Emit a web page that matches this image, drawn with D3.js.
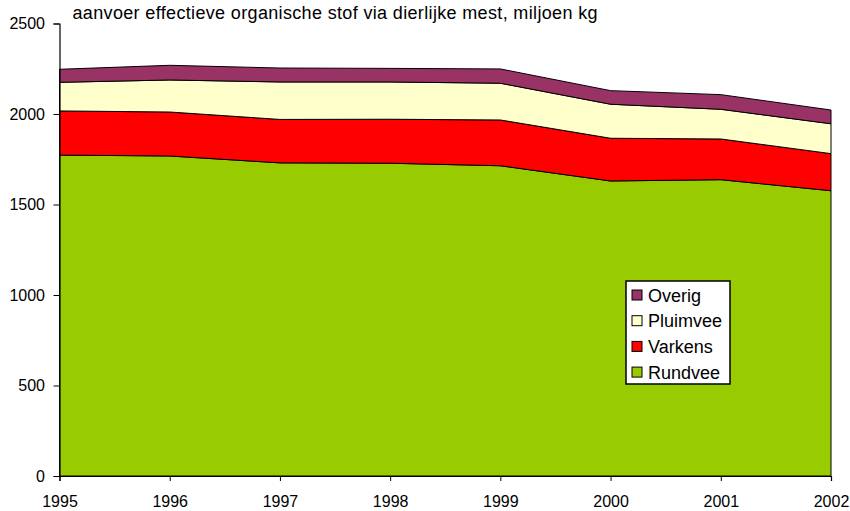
<!DOCTYPE html>
<html>
<head>
<meta charset="utf-8">
<script src="https://cdn.jsdelivr.net/npm/d3@7"></script>
<style>
  body { margin: 0; background: #fff; }
  svg { display: block; font-family: "Liberation Sans", Arial, sans-serif; }
</style>
</head>
<body>
<div id="chart"></div>
<script>
const years = [1995, 1996, 1997, 1998, 1999, 2000, 2001, 2002];
const rundvee = [1773, 1768, 1730, 1728, 1714, 1630, 1637, 1576];
const varkens = [244, 243, 240, 243, 253, 236, 225, 205];
const pluimvee = [158, 177, 207, 206, 203, 188, 164, 165];
const overig = [72, 81, 77, 75, 79, 75, 81, 76];
const seriesNames = ["Rundvee", "Varkens", "Pluimvee", "Overig"];
const seriesColors = ["#99cc00", "#ff0000", "#ffffcc", "#993366"];
const yTicks = [0, 500, 1000, 1500, 2000, 2500];
const title = "aanvoer effectieve organische stof via dierlijke mest, miljoen kg";

const W = 850, H = 511;
const margin = { top: 23.5, right: 19, bottom: 35, left: 59.5 };
const width = W - margin.left - margin.right;
const height = H - margin.top - margin.bottom;

const table = years.map((yr, i) => ({
  year: yr,
  Rundvee: rundvee[i],
  Varkens: varkens[i],
  Pluimvee: pluimvee[i],
  Overig: overig[i],
}));

const svg = d3.select("#chart").append("svg")
  .attr("width", W)
  .attr("height", H);

const root = svg.append("g")
  .attr("transform", `translate(${margin.left},${margin.top})`);

const x = d3.scaleLinear().domain([1995, 2002]).range([0, width]);
const y = d3.scaleLinear().domain([0, 2500]).range([height, 0]);
const color = d3.scaleOrdinal().domain(seriesNames).range(seriesColors);

const stacked = d3.stack().keys(seriesNames)(table);

const area = d3.area()
  .x((d) => x(d.data.year))
  .y0((d) => y(d[0]))
  .y1((d) => y(d[1]));

root.append("g")
  .selectAll("path")
  .data(stacked)
  .join("path")
  .attr("fill", (d) => color(d.key))
  .attr("stroke", "#000")
  .attr("stroke-width", 1)
  .attr("stroke-linejoin", "round")
  .attr("d", area);

// axes
const yAxis = root.append("g")
  .call(d3.axisLeft(y).tickValues(yTicks).tickFormat(d3.format("d")).tickSize(6).tickPadding(8.5));
const xAxis = root.append("g")
  .attr("transform", `translate(0,${height})`)
  .call(d3.axisBottom(x).tickValues(years).tickFormat(d3.format("d")).tickSize(5).tickPadding(15));

[yAxis, xAxis].forEach((ax) => {
  ax.attr("font-size", 16).attr("font-family", "Liberation Sans, Arial, sans-serif");
  ax.select(".domain").attr("stroke", "#000").attr("stroke-width", 1.2);
  ax.selectAll(".tick line").attr("stroke", "#000");
  ax.selectAll(".tick text").attr("fill", "#000");
});

svg.append("text")
  .attr("x", 72.5)
  .attr("y", 19)
  .attr("font-size", "18px")
  .attr("fill", "#000")
  .attr("textLength", 525)
  .attr("lengthAdjust", "spacing")
  .text(title);

// legend
const legend = svg.append("g").attr("transform", "translate(626,281)");
legend.append("rect")
  .attr("width", 104)
  .attr("height", 103)
  .attr("fill", "#fff")
  .attr("stroke", "#000")
  .attr("stroke-width", 1.5);

const legendItems = seriesNames.slice().reverse();
const item = legend.selectAll("g.item")
  .data(legendItems)
  .join("g")
  .attr("class", "item")
  .attr("transform", (_, i) => `translate(6,${14 + i * 25.7})`);

item.append("rect")
  .attr("x", 0)
  .attr("y", -5)
  .attr("width", 10)
  .attr("height", 10)
  .attr("fill", (d) => color(d))
  .attr("stroke", "#000")
  .attr("stroke-width", 1);

item.append("text")
  .attr("x", 16)
  .attr("y", 6.5)
  .attr("font-size", "18px")
  .attr("fill", "#000")
  .text((d) => d);
</script>
</body>
</html>
